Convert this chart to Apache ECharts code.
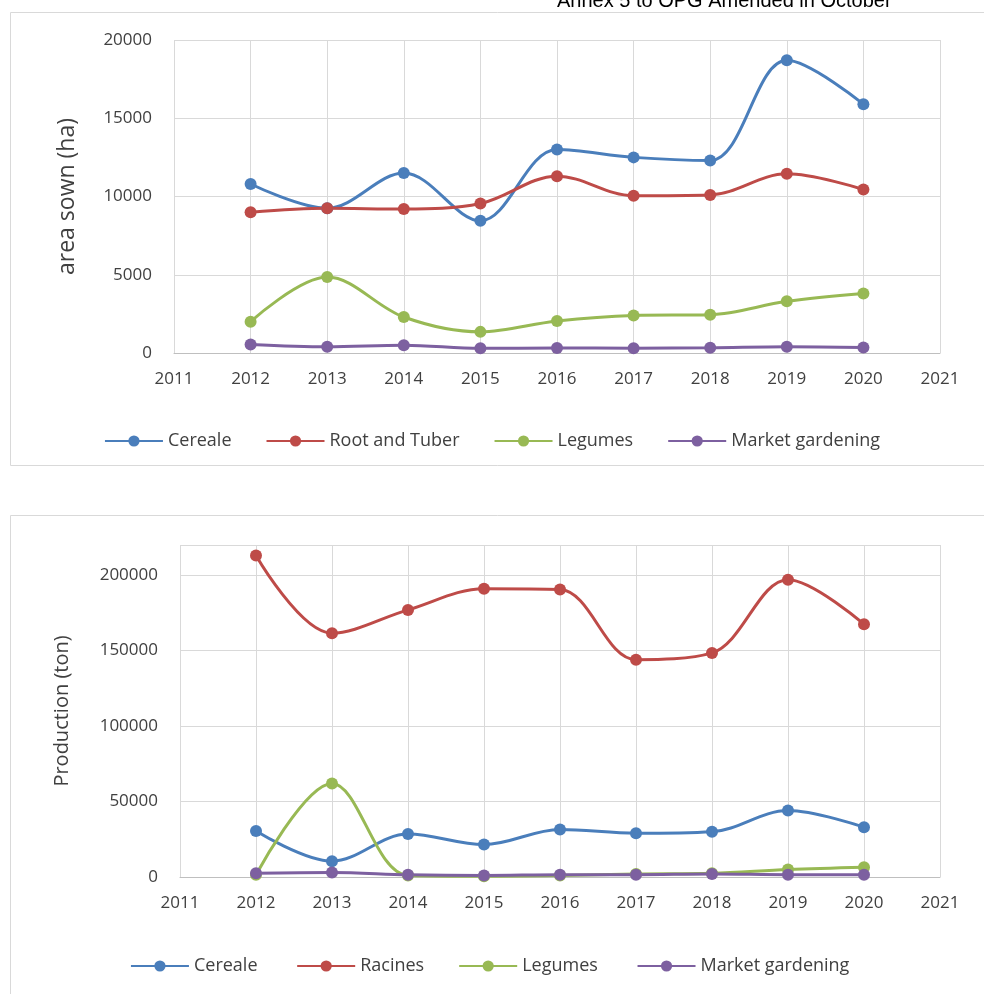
<!DOCTYPE html>
<html><head><meta charset="utf-8">
<script src="https://cdn.jsdelivr.net/npm/echarts@6/dist/echarts.min.js"></script>
<style>html,body{margin:0;padding:0;background:#fff}#c{width:984px;height:994px}</style>
</head><body><div id="c"></div>
<script>
var years = [2012, 2013, 2014, 2015, 2016, 2017, 2018, 2019, 2020];
var areaCereale = [10800, 9250, 11500, 8450, 13000, 12500, 12300, 18700, 15900];
var areaRoot = [9000, 9250, 9200, 9550, 11300, 10050, 10100, 11450, 10450];
var areaLegumes = [2000, 4850, 2300, 1350, 2050, 2400, 2450, 3300, 3800];
var areaMarket = [550, 400, 500, 300, 320, 310, 330, 400, 350];
var prodCereale = [30500, 10500, 28500, 21500, 31500, 29000, 30000, 44000, 33000];
var prodRacines = [213000, 161500, 177000, 191000, 190500, 144000, 148500, 197000, 167500];
var prodLegumes = [1500, 62000, 1000, 500, 1000, 2000, 2500, 5000, 6500];
var prodMarket = [2500, 3000, 1500, 1000, 1500, 1500, 2000, 1500, 1500];
var colors = { blue: '#4a7ebb', red: '#be4b48', green: '#98b954', purple: '#7d60a0' };
var font = 'Open Sans';

function pairs(vals) { return years.map(function (y, i) { return [y, vals[i]]; }); }
function line(name, vals, color, idx) {
    return {
        name: name, type: 'line', smooth: 0.35, xAxisIndex: idx, yAxisIndex: idx,
        data: pairs(vals), symbol: 'circle', symbolSize: 12,
        lineStyle: { color: color, width: 3 }, itemStyle: { color: color }
    };
}
function plain(v) { return String(v); }
function xAxis(idx) {
    return {
        type: 'value', gridIndex: idx, min: 2011, max: 2021, interval: 1,
        axisLine: { lineStyle: { color: '#bfbfbf' } }, axisTick: { show: false },
        axisLabel: { color: '#404040', fontSize: 17, fontFamily: font, margin: 18, formatter: plain },
        splitLine: { show: true, lineStyle: { color: '#d9d9d9' } }
    };
}
var legendText = { color: '#404040', fontSize: 18, fontFamily: font };
var legendBase = { left: 'center', itemWidth: 58, itemHeight: 14, itemGap: 34, textStyle: legendText,
                   itemStyle: { borderWidth: 0 } };

var myChart = echarts.init(document.getElementById('c'));
var option = {
    animation: false,
    graphic: [
        { type: 'rect', shape: { x: 10.5, y: 12.5, width: 990, height: 453 }, style: { fill: 'none', stroke: '#d9d9d9' } },
        { type: 'rect', shape: { x: 10.5, y: 515.5, width: 990, height: 490 }, style: { fill: 'none', stroke: '#d9d9d9' } },
        { type: 'text', left: 557, top: -9, style: { text: 'Annex 5 to OPG Amended in October', fill: '#000', font: '20px Liberation Sans' } }
    ],
    grid: [
        { left: 174, right: 44, top: 40, height: 313 },
        { left: 180, right: 44, top: 545, height: 332 }
    ],
    legend: [
        Object.assign({ top: 427, data: ['Cereale', 'Root and Tuber', 'Legumes', 'Market gardening'] }, legendBase),
        Object.assign({ top: 952, data: ['Cereale ', 'Racines', 'Legumes ', 'Market gardening '] }, legendBase)
    ],
    xAxis: [xAxis(0), xAxis(1)],
    yAxis: [
        { type: 'value', gridIndex: 0, min: 0, max: 20000, interval: 5000,
          name: 'area sown (ha)', nameLocation: 'middle', nameGap: 95,
          nameTextStyle: { fontSize: 23, color: '#404040', fontFamily: font },
          axisLine: { show: false }, axisTick: { show: false },
          axisLabel: { color: '#404040', fontSize: 17, fontFamily: font, margin: 22, formatter: plain },
          splitLine: { lineStyle: { color: '#d9d9d9' } } },
        { type: 'value', gridIndex: 1, min: 0, max: 220000, interval: 50000,
          name: 'Production (ton)', nameLocation: 'middle', nameGap: 108,
          nameTextStyle: { fontSize: 20, color: '#404040', fontFamily: font },
          axisLine: { show: false }, axisTick: { show: false },
          axisLabel: { color: '#404040', fontSize: 17, fontFamily: font, margin: 22,
                       formatter: function (v) { return v > 200000 ? '' : String(v); } },
          splitLine: { lineStyle: { color: '#d9d9d9' } } }
    ],
    series: [
        line('Cereale', areaCereale, colors.blue, 0),
        line('Root and Tuber', areaRoot, colors.red, 0),
        line('Legumes', areaLegumes, colors.green, 0),
        line('Market gardening', areaMarket, colors.purple, 0),
        line('Cereale ', prodCereale, colors.blue, 1),
        line('Racines', prodRacines, colors.red, 1),
        line('Legumes ', prodLegumes, colors.green, 1),
        line('Market gardening ', prodMarket, colors.purple, 1)
    ]
};
myChart.setOption(option);
</script>
</body></html>
